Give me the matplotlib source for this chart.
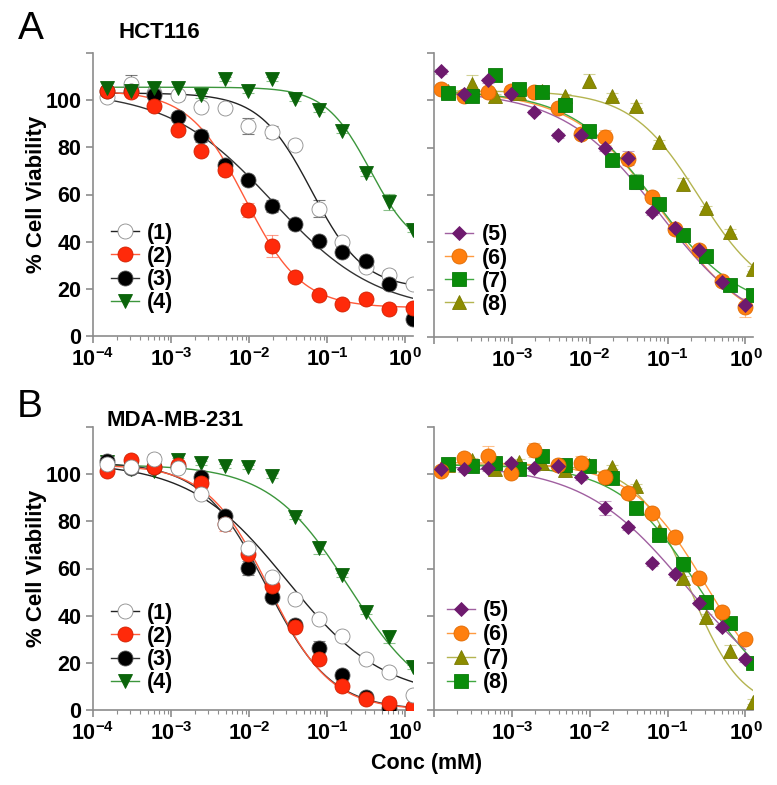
import numpy as np
import matplotlib
matplotlib.use("Agg")
import matplotlib.pyplot as plt
from matplotlib.lines import Line2D
from matplotlib.ticker import FixedLocator, LogLocator, NullFormatter

plt.rcParams['font.family'] = ['Liberation Sans', 'DejaVu Sans']
plt.rcParams['mathtext.fontset'] = 'custom'
plt.rcParams['mathtext.rm'] = 'Liberation Sans:bold'
plt.rcParams['mathtext.bf'] = 'Liberation Sans:bold'
plt.rcParams['mathtext.it'] = 'Liberation Sans:bold'

# concentrazioni (mM): serie da 1.25 mM e da 1 mM, diluizioni 1:2
CONC_A = [0.000153, 0.000305, 0.00061, 0.00122, 0.00244, 0.00488, 0.00977,
          0.0195, 0.0391, 0.0781, 0.156, 0.3125, 0.625, 1.25]
CONC_B = [0.000122, 0.000244, 0.000488, 0.000977, 0.00195, 0.00391, 0.00781,
          0.0156, 0.03125, 0.0625, 0.125, 0.25, 0.5, 1.0]

# HCT116 - % vitalita'
hct_1 = [101.5, 107, 103, 102, 97, 96.5, 89, 86.5, 81, 54, 39.9, 29.3, 26, 22.2]
hct_2 = [104, 103.5, 97.5, 87.3, 78.5, 70.6, 53.3, 38.2, 25, 17.3, 13.4, 15.9, 11.6, 12]
hct_3 = [103.8, 104, 102, 93, 84.7, 72.7, 66, 55.2, 47.4, 40.3, 35.6, 32, 22.2, 7.4]
hct_4 = [105, 104, 105, 105, 102, 109, 104, 109, 100.7, 96, 87, 69, 56.9, 45]
hct_5 = [112.3, 102.5, 108.4, 102.5, 95.1, 85.2, 85.5, 79.8, 75.6, 52.7, 45.9, 36.7, 23.2, 13.4]
hct_6 = [104.9, 101.7, 103.4, 103.9, 103.4, 96.8, 85.9, 84.3, 75.3, 59, 45.6, 36.7, 23.7, 12.6]
hct_7 = [102.9, 102, 110.5, 104.9, 103.4, 98.2, 87.2, 74.9, 65.7, 56.2, 43, 34.2, 21.8, 17.9]
hct_8 = [104, 106.7, 101.7, 103, 104, 101.7, 108.1, 102, 97.8, 82.2, 64.6, 54.4, 44.5, 28.9]

# MDA-MB-231 - % vitalita'
mda_1 = [104.5, 102.9, 106.5, 102.5, 91.6, 78.9, 68.6, 56.3, 47.1, 38.5, 31.4, 21.5, 16, 6.4]
mda_2 = [101.5, 106, 102.9, 104, 96.4, 79, 66, 52.7, 35.3, 21.5, 10.3, 4.7, 2.8, 1.3]
mda_3 = [105.6, 102.5, 103, 103, 98.7, 82.4, 60.1, 47.8, 36, 26.4, 14.8, 5.6, 0.7, 1]
mda_4 = [105, 102, 101.5, 106, 104.7, 103.5, 103, 99.3, 81.8, 68.6, 57.3, 41.7, 30.8, 18.2]
mda_5 = [102.1, 102.1, 102.5, 104.7, 102.5, 103.5, 98.6, 85.8, 77.5, 62.2, 57.6, 45.5, 35.3, 21.5]
mda_6 = [101.5, 107, 107.8, 100.4, 110.3, 103.9, 104.7, 98.7, 91.9, 83.7, 73.5, 55.8, 41.7, 30.1]
mda_7 = [104, 106, 102.1, 105.3, 104.7, 101.8, 104, 103, 95, 76, 55.9, 39.6, 25.2, 3.5]
mda_8 = [104.4, 103.5, 104.7, 102.1, 107.8, 103.9, 103.5, 98.3, 85.8, 74, 61.7, 46, 37, 19.8]

# errori (SEM) stimati dalle barre visibili
hct_1_err = [1, 3.5, 1, 2, 1, 1, 3.5, 2.5, 1, 3.5, 1.5, 1, 2, 1]
hct_2_err = [1, 1, 1, 1, 1, 1, 3, 4.5, 1, 1, 1, 1, 1, 1]
hct_3_err = [1, 1, 1, 2, 2.5, 1.5, 1, 2.5, 1, 1, 1, 1, 1, 1]
hct_4_err = [1, 1, 1, 2, 1, 1, 1, 1, 1, 1, 1, 1, 3.5, 1]
hct_5_err = [1, 1, 1, 1, 1, 1, 1, 1, 3, 1, 1, 1, 1, 1]
hct_6_err = [1, 1, 1, 2, 1, 1, 1, 3, 1, 1, 1, 1, 1, 4]
hct_7_err = [1, 1, 1, 1, 1, 1, 1, 2.5, 3, 1, 1, 1, 1, 1]
hct_8_err = [1, 4, 1, 1, 1, 1, 3, 1, 1, 1, 2.5, 1, 1, 1]
mda_1_err = [1, 1, 2, 1, 1, 1, 2, 1, 1, 1, 1, 1, 1, 1]
mda_2_err = [1, 1, 2, 1, 1, 3, 1, 1, 1, 1, 1, 1, 1, 1]
mda_3_err = [1, 1, 1, 1, 1, 1, 3, 1, 1, 3, 1, 1, 1, 1]
mda_4_err = [2, 1, 1, 1, 1, 1, 1, 1, 1, 2.5, 1, 1, 2.5, 1]
mda_5_err = [1, 1, 1, 1, 1, 1, 1, 3, 1, 1, 1, 1, 1, 1]
mda_6_err = [1, 2, 4, 1, 3, 1, 3, 1, 1, 1, 1, 1, 1, 1]
mda_7_err = [1, 1, 1, 1, 1, 1, 1, 1, 1, 1, 1, 1, 2.5, 1]
mda_8_err = [1, 2, 1, 1, 1, 1, 1, 1, 1, 1, 3, 1, 1, 1]

# parametri curva (top, bottom, logIC50, hill)
hct_fit = [(103, 20, -1.2, 1.3), (104, 12, -2.05, 1.2), (104, 10, -1.7, 0.65),
           (105.5, 35, -0.45, 1.5), (104, 0, -1.1, 0.7), (104, 0, -1.05, 0.75),
           (104, 10, -1.15, 0.8), (104, 15, -0.6, 1.0)]
mda_fit = [(105, 5, -1.52, 0.7), (104, 0, -1.75, 1.1), (105, 0, -1.78, 1.05),
           (104, 0, -0.72, 0.85), (104, 0, -0.75, 0.65), (105, 0, -0.5, 0.9),
           (104, 0, -0.72, 1.3), (104, 0, -0.6, 0.85)]

XTICKS = [1e-4, 1e-3, 1e-2, 1e-1, 1]
XTICK_LABELS = [r'$10^{-4}$', r'$10^{-3}$', r'$10^{-2}$', r'$10^{-1}$', r'$10^{0}$']

# stili: (marker, colore riempimento, colore bordo, colore linea, size)
STYLE = {
    'circle_white': ('o', 'white', '#8a8a8a', '#222222', 10.8),
    'circle_red': ('o', '#ff2a0a', '#d02000', '#ff5a3a', 10.8),
    'circle_black': ('o', 'black', '#555555', '#333333', 10.8),
    'tri_green': ('v', '#0a640a', '#0a640a', '#3c963c', 10),
    'diamond': ('D', '#6e1a6e', '#6e1a6e', '#a060a0', 7.5),
    'circle_orange': ('o', '#ff7f0f', '#e06a00', '#ff9a40', 10.8),
    'square_green': ('s', '#0a8c0a', '#0a7a0a', '#40a840', 10),
    'tri_olive': ('^', '#8c8c00', '#7a7a00', '#b4b450', 10),
}


def logistic(x, top, bottom, logic50, hill):
    return bottom + (top - bottom) / (1 + 10 ** ((np.log10(x) - logic50) * hill))


def draw_panel(ax, series, left_labels):
    handles = []
    for conc, y, err, fit, style, label in series:
        m, fc, ec, lc, ms = STYLE[style]
        ax.errorbar(conc, y, yerr=err, fmt='none', ecolor=lc, alpha=0.6,
                    elinewidth=0.8, capsize=4, capthick=0.8, zorder=2)
        xs = np.logspace(np.log10(conc[0]), np.log10(conc[-1]), 200)
        ax.plot(xs, logistic(xs, *fit), color=lc, lw=1.0, zorder=3)
        ax.plot(conc, y, linestyle='none', marker=m, ms=ms, mfc=fc, mec=ec,
                mew=0.6, zorder=4)
        handles.append(Line2D([], [], color=lc, lw=1.0, marker=m, ms=ms,
                              mfc=fc, mec=ec, mew=0.6, label=label))

    ax.set_xscale('log')
    ax.set_xlim(1e-4, 1.25)
    ax.set_ylim(0, 120)
    ax.xaxis.set_major_locator(FixedLocator(XTICKS))
    ax.set_yticks([0, 20, 40, 60, 80, 100, 120])
    if left_labels:
        ax.set_xticklabels(XTICK_LABELS)
        ax.set_yticklabels(['0', '20', '40', '60', '80', '100', ''])
    else:
        ax.set_xticklabels([''] + XTICK_LABELS[1:])
        ax.set_yticklabels([])
    ax.xaxis.set_minor_locator(LogLocator(base=10, subs=np.arange(2, 10)))
    ax.xaxis.set_minor_formatter(NullFormatter())

    for s in ['top', 'right']:
        ax.spines[s].set_visible(False)
    for s in ['left', 'bottom']:
        ax.spines[s].set_color('#8c8c8c')
        ax.spines[s].set_linewidth(1.2)
    ax.tick_params(which='major', direction='out', length=5, width=1.2,
                   color='#8c8c8c', labelsize=15.5)
    ax.tick_params(which='minor', direction='out', length=3, width=0.8,
                   color='#8c8c8c')
    for t in ax.get_yticklabels() + ax.get_xticklabels():
        t.set_fontweight('bold')
    return handles


fig = plt.figure(figsize=(7.77, 7.85), dpi=100)
W, H = 777.0, 785.0

def axes_px(x0, y0, x1, y1):
    return fig.add_axes([x0 / W, 1 - y1 / H, (x1 - x0) / W, (y1 - y0) / H])

ax_tl = axes_px(93, 53, 413, 336)
ax_tr = axes_px(434, 53, 753, 337)
ax_bl = axes_px(93, 427, 413, 710)
ax_br = axes_px(434, 427, 753, 710)

LEG = dict(loc='center left', frameon=False, borderpad=0, borderaxespad=0,
           handlelength=1.3, handletextpad=0.4,
           prop={'weight': 'bold', 'size': 15.5})

h = draw_panel(ax_tl, [
    (CONC_A, hct_1, hct_1_err, hct_fit[0], 'circle_white', '(1)'),
    (CONC_A, hct_3, hct_3_err, hct_fit[2], 'circle_black', '(3)'),
    (CONC_A, hct_2, hct_2_err, hct_fit[1], 'circle_red', '(2)'),
    (CONC_A, hct_4, hct_4_err, hct_fit[3], 'tri_green', '(4)'),
], True)
ax_tl.legend(handles=[h[0], h[2], h[1], h[3]], bbox_to_anchor=(0.055, 0.24),
             labelspacing=0.1, **LEG)

h = draw_panel(ax_tr, [
    (CONC_A, hct_8, hct_8_err, hct_fit[7], 'tri_olive', '(8)'),
    (CONC_B, hct_6, hct_6_err, hct_fit[5], 'circle_orange', '(6)'),
    (CONC_A, hct_7, hct_7_err, hct_fit[6], 'square_green', '(7)'),
    (CONC_B, hct_5, hct_5_err, hct_fit[4], 'diamond', '(5)'),
], False)
ax_tr.legend(handles=[h[3], h[1], h[2], h[0]], bbox_to_anchor=(0.035, 0.237),
             labelspacing=0.1, **LEG)

h = draw_panel(ax_bl, [
    (CONC_A, mda_4, mda_4_err, mda_fit[3], 'tri_green', '(4)'),
    (CONC_A, mda_3, mda_3_err, mda_fit[2], 'circle_black', '(3)'),
    (CONC_A, mda_2, mda_2_err, mda_fit[1], 'circle_red', '(2)'),
    (CONC_A, mda_1, mda_1_err, mda_fit[0], 'circle_white', '(1)'),
], True)
ax_bl.legend(handles=[h[3], h[2], h[1], h[0]], bbox_to_anchor=(0.055, 0.219),
             labelspacing=0.1, **LEG)

h = draw_panel(ax_br, [
    (CONC_A, mda_7, mda_7_err, mda_fit[6], 'tri_olive', '(7)'),
    (CONC_A, mda_8, mda_8_err, mda_fit[7], 'square_green', '(8)'),
    (CONC_B, mda_6, mda_6_err, mda_fit[5], 'circle_orange', '(6)'),
    (CONC_B, mda_5, mda_5_err, mda_fit[4], 'diamond', '(5)'),
], False)
ax_br.legend(handles=[h[3], h[2], h[0], h[1]], bbox_to_anchor=(0.04, 0.223),
             labelspacing=0.14, **LEG)

# testi
fig.text(18 / W, 1 - 29 / H, 'A', fontsize=28, ha='left', va='center')
fig.text(17 / W, 1 - 407 / H, 'B', fontsize=28, ha='left', va='center')
fig.text(118 / W, 1 - 32 / H, 'HCT116', fontsize=16, fontweight='bold',
         ha='left', va='center')
fig.text(107 / W, 1 - 421 / H, 'MDA-MB-231', fontsize=16, fontweight='bold',
         ha='left', va='center')
fig.text(37 / W, 1 - 194 / H, '% Cell Viability', fontsize=16,
         fontweight='bold', rotation=90, ha='center', va='center')
fig.text(37 / W, 1 - 568 / H, '% Cell Viability', fontsize=16,
         fontweight='bold', rotation=90, ha='center', va='center')
fig.text(427 / W, 1 - 763 / H, 'Conc (mM)', fontsize=15.5, fontweight='bold',
         ha='center', va='center')

fig.savefig('out.png', dpi=100)
